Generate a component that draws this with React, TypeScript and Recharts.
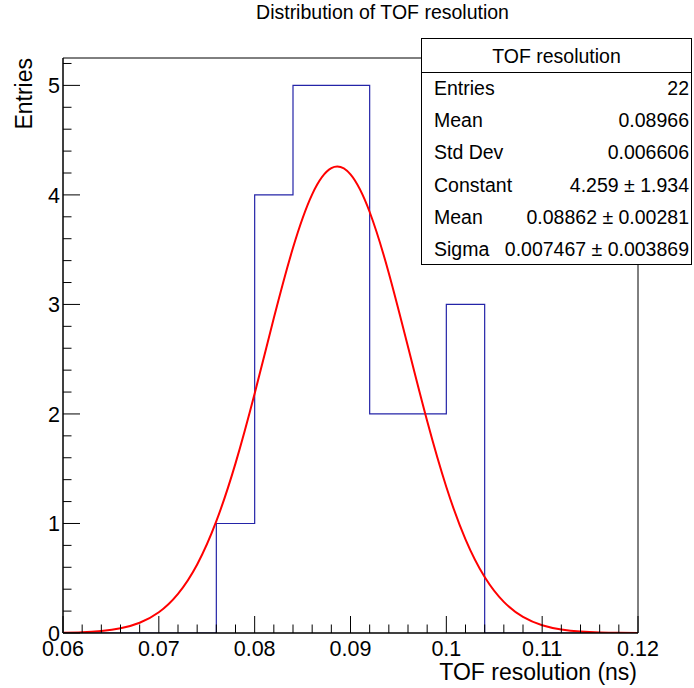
import React from 'react'
import {
  ComposedChart,
  Line,
  XAxis,
  YAxis,
  ReferenceArea,
} from 'recharts'

const FONT = '"Liberation Sans", Arial, Helvetica, sans-serif'

// histogram: bin lower edges (width 0.004) and entries per bin
const BIN_EDGES = [
  0.06, 0.064, 0.068, 0.072, 0.076, 0.08, 0.084, 0.088,
  0.092, 0.096, 0.1, 0.104, 0.108, 0.112, 0.116, 0.12,
]
const BIN_COUNTS = [0, 0, 0, 0, 1, 4, 5, 5, 2, 2, 3, 0, 0, 0, 0]

// gaussian fit curve
const FIT_X = [
  0.06, 0.062, 0.064, 0.066, 0.068, 0.07, 0.072, 0.074, 0.076, 0.078,
  0.08, 0.082, 0.084, 0.086, 0.088, 0.09, 0.092, 0.094, 0.096, 0.098,
  0.1, 0.102, 0.104, 0.106, 0.108, 0.11, 0.112, 0.114, 0.116, 0.118, 0.12,
]
const FIT_Y = [
  0.003, 0.007, 0.019, 0.043, 0.094, 0.19, 0.358, 0.626, 1.021, 1.549,
  2.187, 2.875, 3.517, 4.005, 4.244, 4.187, 3.844, 3.285, 2.613, 1.935,
  1.333, 0.855, 0.511, 0.284, 0.147, 0.071, 0.032, 0.013, 0.005, 0.002, 0.001,
]

const X_MAJOR = [0.06, 0.07, 0.08, 0.09, 0.1, 0.11, 0.12]
const X_LABELS = ['0.06', '0.07', '0.08', '0.09', '0.1', '0.11', '0.12']
const Y_MAJOR = [0, 1, 2, 3, 4, 5]
const Y_LABELS = ['0', '1', '2', '3', '4', '5']

const STAT_LABELS = ['Entries', 'Mean', 'Std Dev', 'Constant', 'Mean', 'Sigma']
const STAT_VALUES = [
  '22',
  '0.08966',
  '0.006606',
  '4.259 \u00b1 1.934',
  '0.08862 \u00b1 0.00281',
  '0.007467 \u00b1 0.003869',
]

const histData = BIN_EDGES.map((x, i) => ({ x, n: BIN_COUNTS[i] ?? 0 }))
const fitData = FIT_X.map((x, i) => ({ x, f: FIT_Y[i] }))

// 5 secondary divisions between major ticks
const subdivide = (major: number[]) => {
  const out: number[] = []
  for (let i = 0; i < major.length - 1; i++) {
    const step = (major[i + 1] - major[i]) / 5
    for (let k = 0; k < 5; k++) out.push(+(major[i] + k * step).toFixed(6))
  }
  out.push(major[major.length - 1])
  return out
}
const xTicks = subdivide(X_MAJOR)
const yTicks = [...subdivide(Y_MAJOR), 5.2]

function XTick({ x, y, payload }: any) {
  const idx = X_MAJOR.findIndex((m) => Math.abs(m - payload.value) < 1e-6)
  const major = idx >= 0
  return (
    <g>
      <line x1={x} x2={x} y1={y} y2={y - (major ? 17 : 8.5)} stroke="#000" />
      {major && (
        <text x={x} y={y + 23} textAnchor="middle" fontSize={21.5} fontFamily={FONT} fill="#000">
          {X_LABELS[idx]}
        </text>
      )}
    </g>
  )
}

function YTick({ x, y, payload }: any) {
  const idx = Y_MAJOR.findIndex((m) => Math.abs(m - payload.value) < 1e-6)
  const major = idx >= 0
  return (
    <g>
      <line x1={x} x2={x + (major ? 17 : 8.5)} y1={y} y2={y} stroke="#000" />
      {major && (
        <text x={x - 3} y={y + 8} textAnchor="end" fontSize={21.5} fontFamily={FONT} fill="#000">
          {Y_LABELS[idx]}
        </text>
      )}
    </g>
  )
}

function StatsBox() {
  const rowH = 32.2
  return (
    <g fontFamily={FONT} fontSize={19.5} fill="#000">
      <rect x={421.5} y={38.5} width={270} height={226} fill="#fff" stroke="#000" />
      <line x1={421.5} x2={691.5} y1={72.5} y2={72.5} stroke="#000" />
      <text x={556.5} y={63} textAnchor="middle">TOF resolution</text>
      {STAT_LABELS.map((lab, i) => (
        <g key={i}>
          <text x={434} y={95 + i * rowH}>{lab}</text>
          <text x={689} y={95 + i * rowH} textAnchor="end">{STAT_VALUES[i]}</text>
        </g>
      ))}
    </g>
  )
}

export default function App() {
  return (
    <div style={{ position: 'absolute', left: 0, top: 0, width: 694, height: 688, background: '#fff' }}>
      <ComposedChart
        width={694}
        height={688}
        margin={{ top: 58, right: 56, bottom: 0, left: 0 }}
      >
        <XAxis
          type="number"
          dataKey="x"
          domain={[0.06, 0.12]}
          ticks={xTicks}
          interval={0}
          tick={<XTick />}
          tickSize={0}
          tickMargin={0}
          tickLine={false}
          axisLine={{ stroke: '#000' }}
          height={55}
          allowDataOverflow
        />
        <YAxis
          type="number"
          domain={[0, 5.25]}
          ticks={yTicks}
          interval={0}
          tick={<YTick />}
          tickSize={0}
          tickMargin={0}
          tickLine={false}
          axisLine={{ stroke: '#000' }}
          width={63}
          allowDataOverflow
        />
        <Line
          data={histData}
          dataKey="n"
          type="stepAfter"
          stroke="#2424a8"
          strokeWidth={1.2}
          dot={false}
          isAnimationActive={false}
        />
        <Line
          data={fitData}
          dataKey="f"
          type="natural"
          stroke="#ff0000"
          strokeWidth={2}
          dot={false}
          isAnimationActive={false}
        />
        <ReferenceArea
          x1={0.06}
          x2={0.12}
          y1={0}
          y2={5.25}
          fill="none"
          stroke="#000"
          strokeWidth={1}
          zIndex={1000}
        />
      </ComposedChart>
      <svg width={694} height={688} style={{ position: 'absolute', left: 0, top: 0, pointerEvents: 'none' }}>
        <text x={382.5} y={19} textAnchor="middle" fontSize={19.5} fontFamily={FONT} fill="#000">
          Distribution of TOF resolution
        </text>
        <text
          x={32}
          y={58}
          transform="rotate(-90, 32, 58)"
          textAnchor="end"
          fontSize={23}
          fontFamily={FONT}
          fill="#000"
        >
          Entries
        </text>
        <text x={637} y={680} textAnchor="end" fontSize={23} fontFamily={FONT} fill="#000">
          TOF resolution (ns)
        </text>
        <StatsBox />
      </svg>
    </div>
  )
}
